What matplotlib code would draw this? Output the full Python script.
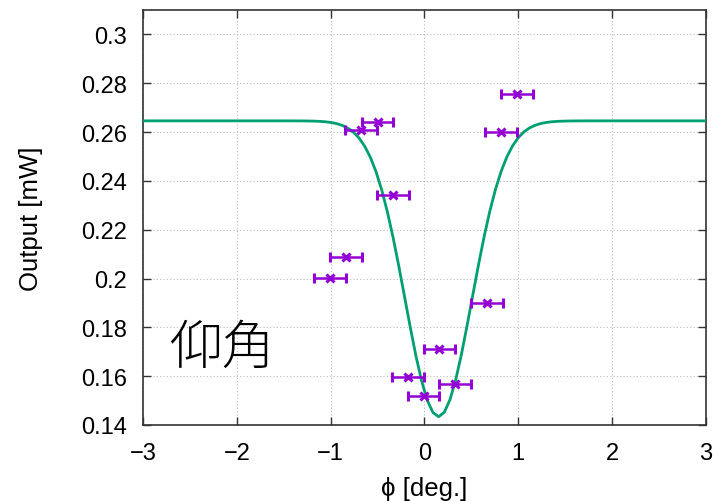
import numpy as np
import matplotlib
matplotlib.use("Agg")
import matplotlib.pyplot as plt

plt.rcParams['font.family'] = ['Liberation Sans', 'DejaVu Sans']

# measured points
phi = [-0.50, -0.675, -0.34, 0.99, 0.82, -0.835, -1.005, 0.664, 0.16, -0.174, 0.323, -0.01]
output = [0.2643, 0.2607, 0.2344, 0.2755, 0.2602, 0.2089, 0.2004, 0.1898, 0.1711, 0.1595, 0.1567, 0.1518]
phi_err = 0.17

# fitted Gaussian dip parameters
fit_base = 0.2646
fit_depth = 0.1212
fit_center = 0.15
fit_sigma = 0.355
n_samples = 100

xticks = [-3, -2, -1, 0, 1, 2, 3]
yticks = [0.14, 0.16, 0.18, 0.2, 0.22, 0.24, 0.26, 0.28, 0.3]
ytick_labels = ['0.14', '0.16', '0.18', '0.2', '0.22', '0.24', '0.26', '0.28', '0.3']
xtick_labels = ['\u22123', '\u22122', '\u22121', '0', '1', '2', '3']

fig = plt.figure(figsize=(7.13, 5.02), dpi=100)
ax = fig.add_axes([0.2006, 0.1514, 0.7894, 0.8266])

xs = np.linspace(-3, 3, n_samples)
ys = fit_base - fit_depth * np.exp(-(xs - fit_center) ** 2 / (2 * fit_sigma ** 2))
ax.plot(xs, ys, color='#009e73', lw=2.0, zorder=3)

ax.errorbar(phi, output, xerr=phi_err, fmt='x', color='#9400d3', ecolor='#9400d3',
            elinewidth=1.8, capsize=3.5, capthick=1.8, markersize=6, mew=2.2, zorder=4)

ax.set_xlim(-3, 3)
ax.set_ylim(0.14, 0.31)
ax.set_xticks(xticks)
ax.set_xticklabels(xtick_labels)
ax.set_yticks(yticks)
ax.set_yticklabels(ytick_labels)
ax.tick_params(direction='in', top=True, right=True, length=6, width=1,
               labelsize=17, colors='#333333', labelcolor='black')
ax.tick_params(axis='x', pad=12)
ax.tick_params(axis='y', pad=11.5)
ax.grid(True, linestyle=(0, (1, 2)), color='#bbbbbb', lw=0.8)
for s in ax.spines.values():
    s.set_color('#333333')
    s.set_linewidth(1.2)

ax.set_xlabel('\u03d5 [deg.]', fontsize=18.5)
ax.xaxis.set_label_coords(0.5, (426 - 477) / 415.0)
ax.set_ylabel('Output [mW]', fontsize=18.5)
ax.yaxis.set_label_coords((43 - 143) / 563.0, 0.5)

ax.text(0.046, 0.185, '仰角', transform=ax.transAxes, fontsize=38,
        family=['Noto Sans CJK JP', 'DejaVu Sans'], fontweight='light',
        va='center', ha='left')

fig.savefig('out.png', dpi=100)
